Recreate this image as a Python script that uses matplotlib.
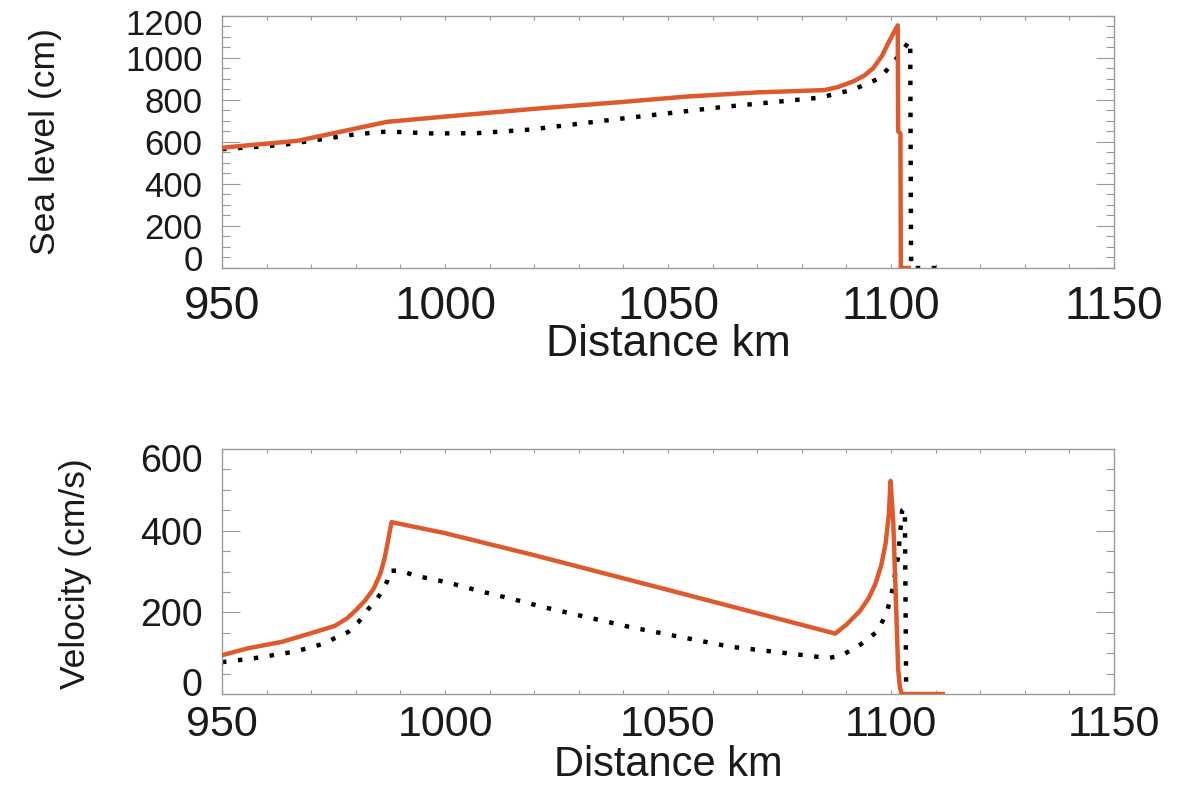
import matplotlib
matplotlib.use("Agg")
import matplotlib.pyplot as plt
import matplotlib.transforms as mtransforms
from matplotlib.ticker import MultipleLocator

# ---------------- data ----------------
# Sea level (cm), orange solid
sl_solid_x = [950, 967, 987, 1000, 1020, 1040, 1054, 1070, 1085, 1088, 1091.5, 1094,
              1096, 1098, 1099.5, 1101.5, 1101.6, 1102.1, 1102.2, 1104]
sl_solid_y = [572, 605, 695, 720, 757, 790, 815, 835, 846, 860, 887, 915,
              950, 1010, 1075, 1154, 650, 640, 0, 0]
# Sea level (cm), black dotted
sl_dot_x = [950, 963.5, 980, 987, 997, 1007, 1019, 1039, 1062, 1084, 1091.5, 1097.5,
            1101, 1103.8, 1104.3, 1104.5, 1110.5]
sl_dot_y = [565, 585, 636, 649, 640, 641, 658, 709, 765, 810, 848, 903,
            990, 1070, 1080, 0, 0]

# Velocity (cm/s), orange solid
v_solid_x = [950, 955.8, 963.5, 970.9, 975.3, 978, 980, 982, 984, 985.5, 986.5, 987.3, 988,
             1000, 1020, 1050, 1087.5, 1090, 1093, 1095, 1096.5, 1097.8, 1098.8, 1099.5,
             1099.9, 1100.5, 1101, 1101.6, 1102, 1102.4, 1111.6]
v_solid_y = [95, 112, 128, 152, 167, 185, 205, 228, 258, 295, 335, 380, 421,
             394, 340, 255, 148, 170, 203, 235, 270, 315, 370, 440,
             522, 420, 260, 60, 15, 0, 0]
# Velocity (cm/s), black dotted
v_dot_x = [950, 957.4, 966.4, 972.4, 978.3, 980.5, 982.7, 984.5, 985.9, 987, 987.5, 990,
           993.3, 1000.7, 1008.2, 1015.7, 1022.4, 1041.5, 1063.9, 1086, 1089, 1093,
           1096.8, 1099, 1100.2, 1101.6, 1102.5, 1103.1, 1103.4]
v_dot_y = [78, 88, 104, 122, 152, 175, 207, 230, 251, 276, 302, 302,
           290, 273, 251, 231, 212, 164, 116, 88, 95, 120,
           152, 197, 250, 338, 450, 455, 0]

x_ticks = [950, 1000, 1050, 1100, 1150]
sl_ticks = [0, 200, 400, 600, 800, 1000, 1200]
v_ticks = [0, 200, 400, 600]

x_label = "Distance km"
sl_label = "Sea level (cm)"
v_label = "Velocity (cm/s)"

# ---------------- style ----------------
ORANGE = "#DE5A2C"
GRAY = "#9a9a9a"
TXT = "#1a1a1a"
plt.rcParams['font.family'] = ['Liberation Sans', 'DejaVu Sans']

fig = plt.figure(figsize=(11.81, 7.91), dpi=100)
ax1 = fig.add_axes([0.188, 0.6612, 0.7553, 0.319])
ax2 = fig.add_axes([0.188, 0.1226, 0.7553, 0.3097])


def style(ax, yt, ymax, ylabel, ylab_x, ylab_y, ysize, shift_lo, shift_hi,
          xsize, xpad, xlsize, xlpad):
    ax.set_xlim(950, 1150)
    ax.set_ylim(0, ymax)
    ax.set_xticks(x_ticks)
    ax.set_yticks(yt)
    ax.xaxis.set_minor_locator(MultipleLocator(10))
    ax.yaxis.set_minor_locator(MultipleLocator(50))
    for s in ax.spines.values():
        s.set_color(GRAY)
        s.set_linewidth(1.0)
    ax.tick_params(axis='x', which='both', direction='in', top=True, bottom=True,
                   length=3, width=0.8, color=GRAY, labelsize=xsize, pad=xpad,
                   labelcolor=TXT)
    ax.tick_params(axis='y', which='major', direction='in', left=True, right=True,
                   length=13, width=0.8, color=GRAY, labelsize=ysize, pad=14,
                   labelcolor=TXT)
    ax.tick_params(axis='y', which='minor', direction='in', left=True, right=True,
                   length=6, width=0.8, color=GRAY)
    ax.set_xlabel(x_label, fontsize=xlsize, color=TXT, labelpad=xlpad)
    ax.set_ylabel(ylabel, fontsize=25.5, color=TXT)
    ax.yaxis.set_label_coords(ylab_x, ylab_y)
    ticks = ax.yaxis.get_major_ticks()
    lo = ticks[0].label1
    hi = ticks[-1].label1
    lo.set_transform(lo.get_transform() +
                     mtransforms.ScaledTranslation(0, shift_lo / 100, fig.dpi_scale_trans))
    hi.set_transform(hi.get_transform() +
                     mtransforms.ScaledTranslation(0, -shift_hi / 100, fig.dpi_scale_trans))


ax1.plot(sl_solid_x, sl_solid_y, color=ORANGE, lw=3.2, solid_joinstyle='round', zorder=3)
ax1.plot(sl_dot_x, sl_dot_y, color='black', lw=3.2, linestyle=(0, (1.0, 2.6)), zorder=2)
style(ax1, sl_ticks, 1200, sl_label, -0.179, 0.5, 25, 10, 6, 33, 12, 32, -3)

ax2.plot(v_solid_x, v_solid_y, color=ORANGE, lw=3.2, solid_joinstyle='round', zorder=3)
ax2.plot(v_dot_x, v_dot_y, color='black', lw=3.2, linestyle=(0, (1.0, 2.6)), zorder=2)
style(ax2, v_ticks, 600, v_label, -0.146, 0.49, 27, 12, 9, 31, 8, 30, 0)

fig.savefig("out.png", dpi=100, facecolor='white')
